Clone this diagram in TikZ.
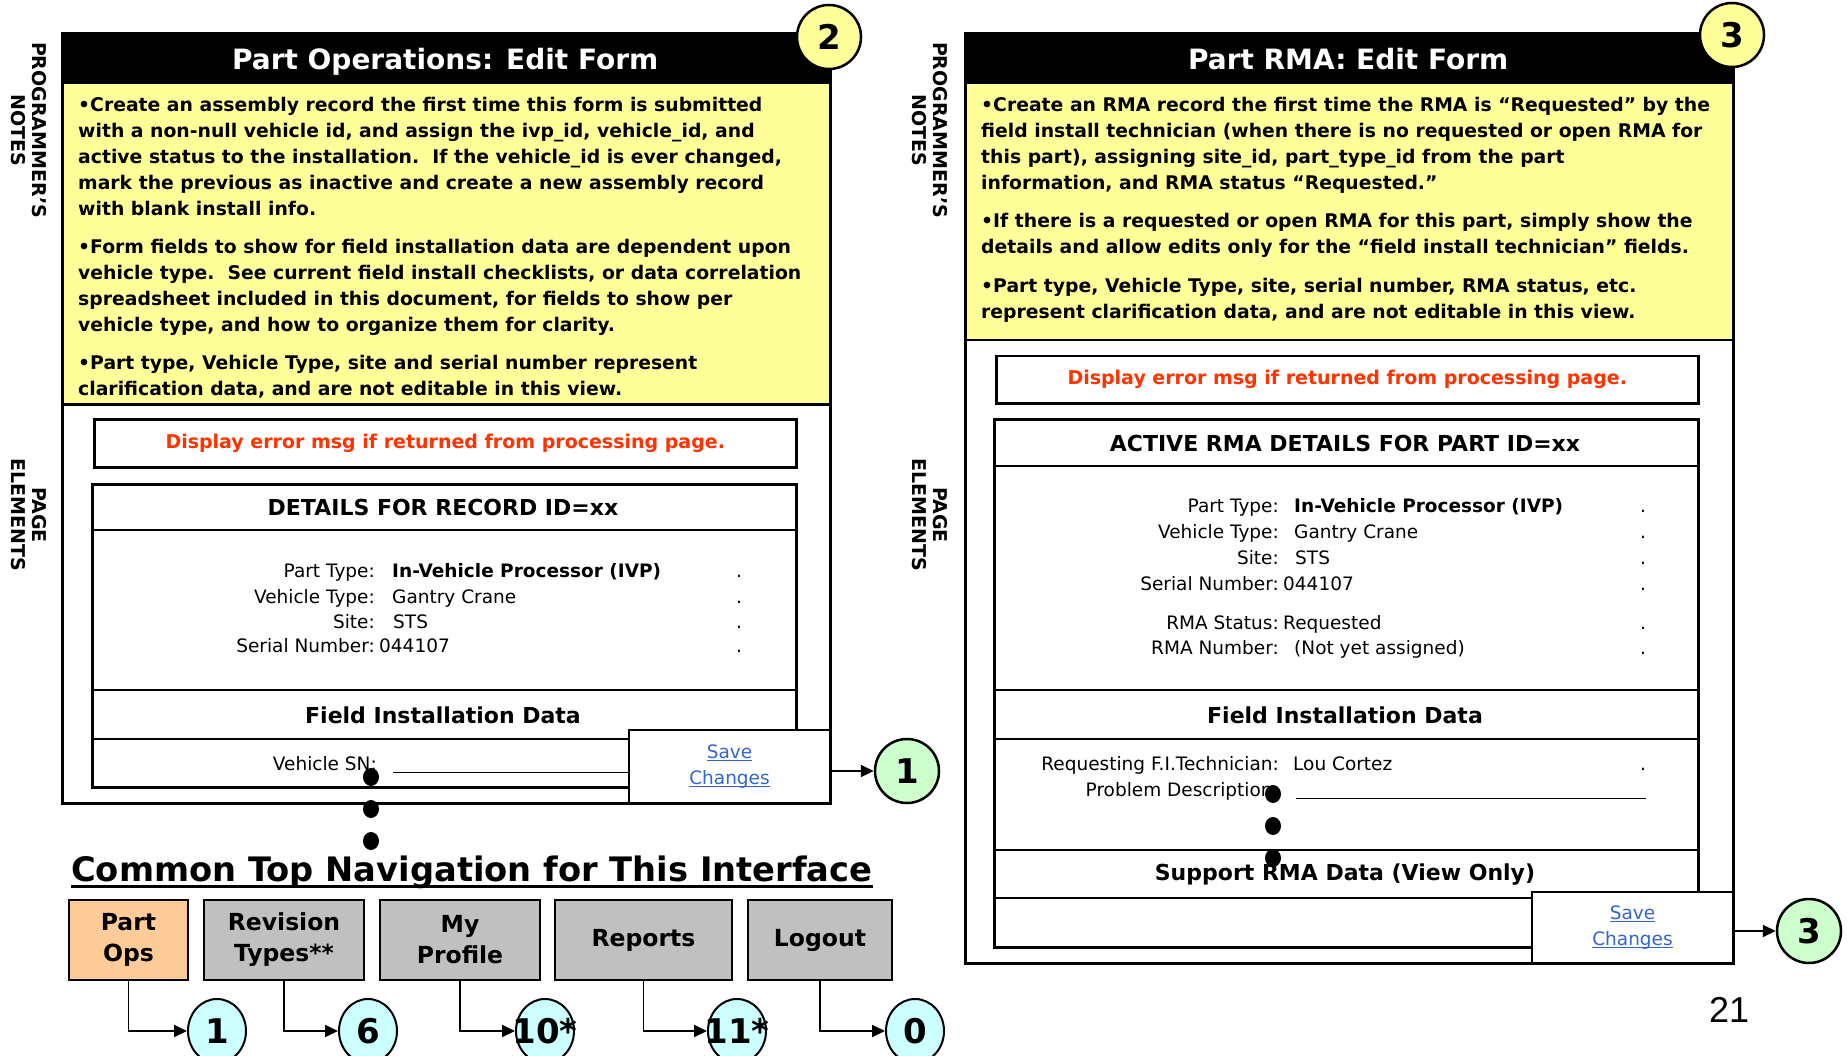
\documentclass[tikz,border=0pt]{standalone}
\usepackage{fontspec}
\setmainfont{DejaVu Sans}
\newfontfamily\sidefont{DejaVu Sans}
\newfontfamily\pagefont{Liberation Sans}
\usetikzlibrary{arrows.meta, shapes.geometric}
\tikzset{>={Triangle[width=12pt,length=13pt]}}
\definecolor{noteYellow}{RGB}{255,255,153}
\definecolor{errRed}{RGB}{255,51,0}
\definecolor{linkBlue}{RGB}{51,102,204}
\definecolor{opsOrange}{RGB}{255,204,153}
\definecolor{navGrey}{RGB}{192,192,192}
\definecolor{doneGreen}{RGB}{204,255,204}
\definecolor{navCyan}{RGB}{204,255,255}
\newcommand{\fsz}[2]{\fontsize{#1}{#2}\selectfont}
\newcommand{\lnk}[1]{\leavevmode\setbox0\hbox{#1}\rlap{\rule[-3pt]{\wd0}{1.2pt}}\box0}

\begin{document}
\begin{tikzpicture}[x=1pt, y=-1pt,
    panel/.style = {draw, line width=2.5pt, fill=white, minimum width=768pt,
        anchor=north west, inner sep=0pt},
    titlebar/.style = {fill=black, text=white, font=\bfseries\fsz{28}{32},
        text height=24pt, text depth=0pt,
        minimum width=768pt, minimum height=50pt, anchor=north west},
    notes/.style = {draw, line width=2.5pt, fill=noteYellow, minimum width=768pt,
        anchor=north west},
    notetext/.style = {anchor=north west, align=left, inner sep=0pt,
        font=\bfseries\fsz{18.8}{26}},
    box/.style = {draw, line width=2.5pt, anchor=north west, inner sep=0pt},
    rule/.style = {line width=2.5pt},
    errtext/.style = {text=errRed, font=\bfseries\fsz{19}{23}},
    head/.style = {font=\bfseries\fsz{22}{26}},
    lbl/.style = {anchor=base east, inner sep=0pt, font=\fsz{18.5}{23}},
    val/.style = {anchor=base west, inner sep=0pt, font=\fsz{18.5}{23}},
    save/.style = {draw, line width=2pt, fill=white, anchor=north west,
        minimum width=201pt, inner sep=0pt, text=linkBlue, align=center,
        font=\fsz{18.5}{26}},
    dot/.style = {ellipse, fill=black, minimum width=16pt, minimum height=18pt,
        inner sep=0pt},
    tag/.style = {circle, draw, line width=2.5pt, minimum size=64pt,
        inner sep=0pt, font=\bfseries\fsz{34}{34}},
    navbtn/.style = {draw, line width=2pt, fill=navGrey, minimum height=80pt,
        anchor=north west, align=center, font=\bfseries\fsz{23.5}{31}},
    navtag/.style = {ellipse, draw, line width=2pt, fill=navCyan,
        minimum width=58pt, minimum height=64pt, inner sep=0pt,
        font=\bfseries\fsz{34}{34}},
    side/.style = {rotate=-90, align=center, font=\sidefont\bfseries\fsz{19}{21}},
    link/.style = {->, line width=1.8pt}
  ]
  \useasboundingbox (0,0) rectangle (1847,1056);

  % side labels
  \node[side] (opsNoteSide) at (29,130) {PROGRAMMER’S\\NOTES};
  \node[side] (opsPageSide) at (29,515) {PAGE\\ELEMENTS};
  \node[side] (rmaNoteSide) at (930,130) {PROGRAMMER’S\\NOTES};
  \node[side] (rmaPageSide) at (930,515) {PAGE\\ELEMENTS};

  % part operations form
  \node[panel, minimum height=770pt] (opsPanel) at (61,32) {};
  \node[titlebar] (opsTitle) at (61,32) {Part Operations: Edit Form};
  \node[notes, minimum height=321pt] (opsNotes) at (61,82) {};
  \node[notetext] (opsNoteText) at (78,97) {%
    •Create an assembly record the first time this form is submitted\\
    with a non-null vehicle id, and assign the ivp\_id, vehicle\_id, and\\
    active status to the installation.\ \ If the vehicle\_id is ever changed,\\
    mark the previous as inactive and create a new assembly record\\
    with blank install info.\\[12pt]
    •Form fields to show for field installation data are dependent upon\\
    vehicle type.\ \ See current field install checklists, or data correlation\\
    spreadsheet included in this document, for fields to show per\\
    vehicle type, and how to organize them for clarity.\\[12pt]
    •Part type, Vehicle Type, site and serial number represent\\
    clarification data, and are not editable in this view.};
  \node[box, errtext, minimum width=702pt, minimum height=48pt] (opsErr) at (93,418)
    {Display error msg if returned from processing page.};
  \node[box, minimum width=704pt, minimum height=303pt] (opsDetails) at (91,483) {};
  \draw[rule] (91,530) -- (795,530);
  \draw[rule] (91,690) -- (795,690);
  \draw[rule] (91,739) -- (795,739);
  \node[head] (opsHead) at (443,507) {DETAILS FOR RECORD ID=xx};
  \node[head] (opsFieldHead) at (443,715) {Field Installation Data};
  \foreach \lbl/\val/\x/\y [count=\i] in {Part Type:/{\bfseries In-Vehicle Processor (IVP)}/392/577,
      Vehicle Type:/Gantry Crane/392/603, Site:/STS/393/628, Serial Number:/044107/379/652} {
    \node[lbl] (opsLbl\i) at (375,\y) {\lbl};
    \node[val] (opsVal\i) at (\x,\y) {\val};
    \node[val] (opsEnd\i) at (736,\y) {.};
  }
  \node[lbl] (opsSnLbl) at (377,770) {Vehicle SN:};
  \node[val] (opsSnVal) at (393,770) {\rule[-3pt]{240pt}{1pt}};
  \node[save, minimum height=73pt] (opsSave) at (628,729) {\lnk{Save}\\\lnk{Changes}};
  \foreach \y [count=\i] in {777,809,841}
    \node[dot] (opsDot\i) at (371,\y) {};
  \node[tag, fill=noteYellow] (opsNum) at (829,37) {2};
  \node[tag, fill=doneGreen] (opsDone) at (907,771) {1};
  \draw[link] (opsSave.east |- opsDone) -- (opsDone);

  % part rma form
  \node[panel, minimum height=930pt] (rmaPanel) at (964,32) {};
  \node[titlebar] (rmaTitle) at (964,32) {Part RMA: Edit Form};
  \node[notes, minimum height=257pt] (rmaNotes) at (964,82) {};
  \node[notetext] (rmaNoteText) at (981,97) {%
    •Create an RMA record the first time the RMA is “Requested” by the\\
    field install technician (when there is no requested or open RMA for\\
    this part), assigning site\_id, part\_type\_id from the part\\
    information, and RMA status “Requested.”\\[12pt]
    •If there is a requested or open RMA for this part, simply show the\\
    details and allow edits only for the “field install technician” fields.\\[13pt]
    •Part type, Vehicle Type, site, serial number, RMA status, etc.\\
    represent clarification data, and are not editable in this view.};
  \node[box, errtext, minimum width=702pt, minimum height=47pt] (rmaErr) at (995,355)
    {Display error msg if returned from processing page.};
  \node[box, minimum width=704pt, minimum height=528pt] (rmaDetails) at (993,418) {};
  \foreach \y in {466,690,739,850,898}
    \draw[rule] (993,\y) -- (1697,\y);
  \node[head] (rmaHead) at (1345,443) {ACTIVE RMA DETAILS FOR PART ID=xx};
  \node[head] (rmaFieldHead) at (1345,715) {Field Installation Data};
  \node[head] (rmaSupHead) at (1345,875) {Support RMA Data (View Only)};
  \foreach \lbl/\val/\x/\y [count=\i] in {Part Type:/{\bfseries In-Vehicle Processor (IVP)}/1294/512,
      Vehicle Type:/Gantry Crane/1294/538, Site:/STS/1295/564, Serial Number:/044107/1283/590,
      RMA Status:/Requested/1283/629, RMA Number:/(Not yet assigned)/1294/654} {
    \node[lbl] (rmaLbl\i) at (1279,\y) {\lbl};
    \node[val] (rmaVal\i) at (\x,\y) {\val};
    \node[val] (rmaEnd\i) at (1640,\y) {.};
  }
  \node[lbl] (rmaTechLbl) at (1279,770) {Requesting F.I.Technician:};
  \node[val] (rmaTechVal) at (1293,770) {Lou Cortez};
  \node[val] (rmaTechEnd) at (1640,770) {.};
  \node[lbl] (rmaProbLbl) at (1279,796) {Problem Description:};
  \node[val] (rmaProbVal) at (1296,796) {\rule[-3pt]{350pt}{1pt}};
  \foreach \y [count=\i] in {794,826,858}
    \node[dot] (rmaDot\i) at (1273,\y) {};
  \node[save, minimum height=71pt] (rmaSave) at (1531,891) {\lnk{Save}\\\lnk{Changes}};
  \node[tag, fill=noteYellow] (rmaNum) at (1732,35) {3};
  \node[tag, fill=doneGreen] (rmaDone) at (1809,931) {3};
  \draw[link] (rmaSave.east |- rmaDone) -- (rmaDone);

  % navigation
  \node[anchor=base west, inner sep=0pt, font=\bfseries\fsz{33.7}{40}] (navHead) at (71,881)
    {Common Top Navigation for This Interface};
  \draw[line width=3pt] ([yshift=-5pt]navHead.base west) -- ([yshift=-5pt]navHead.base east);
  \node[navbtn, fill=opsOrange, minimum width=119pt] (navOps) at (68,899) {Part\\Ops};
  \node[navbtn, minimum width=160pt] (navRev) at (203,899) {Revision\\Types**};
  \node[navbtn, minimum width=160pt] (navProf) at (379,899) {My\\Profile};
  \node[navbtn, minimum width=177pt] (navRep) at (554,899) {Reports};
  \node[navbtn, minimum width=144pt] (navOut) at (747,899) {Logout};
  \node[navtag] (tagOps) at (217,1031) {1};
  \node[navtag] (tagRev) at (368,1031) {6};
  \node[navtag] (tagProf) at (545,1031) {\makebox[0pt]{10*}};
  \node[navtag] (tagRep) at (737,1031) {\makebox[0pt]{11*}};
  \node[navtag] (tagOut) at (915,1031) {0};
  \draw[link] (navOps.south) |- (tagOps);
  \draw[link] (navRev.south) |- (tagRev);
  \draw[link] (navProf.south) |- (tagProf);
  \draw[link] (navRep.south) |- (tagRep);
  \draw[link] (navOut.south) |- (tagOut);

  \node[font=\pagefont\fsz{36}{40}] (pageNum) at (1729,1010) {21};
\end{tikzpicture}
\end{document}
